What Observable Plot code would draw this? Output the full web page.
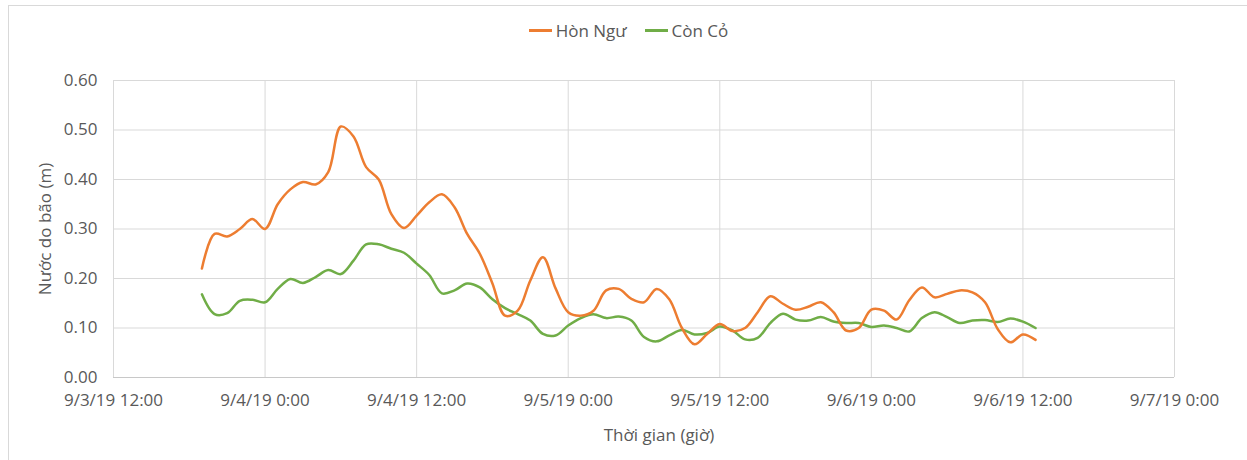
<!DOCTYPE html>
<html>
<head>
<meta charset="utf-8">
<script src="https://cdn.jsdelivr.net/npm/d3@7"></script>
<script src="https://cdn.jsdelivr.net/npm/@observablehq/plot@0.6"></script>
<style>
  body { margin: 0; background: #fff; font-family: "Open Sans", sans-serif; }
  #wrap { position: relative; width: 1247px; height: 460px; overflow: hidden; background: #fff; }
  #frame { position: absolute; left: 8px; top: 5px; width: 1300px; height: 500px;
           border-top: 1px solid #d9d9d9; border-left: 1px solid #d9d9d9; }
  #legend { position: absolute; left: 10px; top: 18px; width: 1237px; height: 24px;
            display: flex; justify-content: center; align-items: center; gap: 18px;
            font-size: 17px; color: #595959; }
  .item { display: flex; align-items: center; }
  .sw { width: 23px; height: 3px; margin-right: 4px; }
  #chart { position: absolute; left: 0; top: 50px; }
</style>
</head>
<body>
<div id="wrap">
  <div id="frame"></div>
  <div id="legend"></div>
  <div id="chart"></div>
</div>
<script>
// Series names and colors
const seriesNames = ["Hòn Ngư", "Còn Cỏ"];
const seriesColors = ["#ED7D31", "#70AD47"];

// Hourly observations, first reading 9/3/19 19:00, last 9/6/19 13:00
const firstReading = "2019-09-03T19:00:00Z";

const honNgu = [
  0.22, 0.29, 0.285, 0.30, 0.32, 0.30, 0.35, 0.38, 0.395, 0.39,
  0.415, 0.507, 0.487, 0.425, 0.40, 0.33, 0.302, 0.327, 0.354, 0.37,
  0.344, 0.29, 0.25, 0.19, 0.125, 0.135, 0.196, 0.243, 0.18, 0.132,
  0.125, 0.135, 0.176, 0.179, 0.159, 0.152, 0.179, 0.158, 0.10, 0.067,
  0.088, 0.108, 0.094, 0.10, 0.132, 0.164, 0.149, 0.137, 0.143, 0.152,
  0.132, 0.095, 0.10, 0.137, 0.135, 0.117, 0.156, 0.182, 0.162, 0.169,
  0.176, 0.172, 0.152, 0.098, 0.071, 0.087, 0.076
];

const conCo = [
  0.168, 0.128, 0.13, 0.155, 0.157, 0.152, 0.179, 0.199, 0.191, 0.203,
  0.217, 0.209, 0.236, 0.269, 0.269, 0.26, 0.252, 0.23, 0.207, 0.17,
  0.176, 0.19, 0.182, 0.158, 0.14, 0.128, 0.115, 0.088, 0.085, 0.105,
  0.12, 0.128, 0.12, 0.123, 0.115, 0.082, 0.073, 0.085, 0.096, 0.087,
  0.09, 0.103, 0.095, 0.077, 0.08, 0.11, 0.129, 0.117, 0.115, 0.122,
  0.113, 0.11, 0.11, 0.102, 0.105, 0.10, 0.093, 0.12, 0.132, 0.122,
  0.11, 0.115, 0.116, 0.112, 0.119, 0.113, 0.10
];

// Axis ticks
const xTickTimes = [
  "2019-09-03T12:00:00Z", "2019-09-04T00:00:00Z", "2019-09-04T12:00:00Z",
  "2019-09-05T00:00:00Z", "2019-09-05T12:00:00Z", "2019-09-06T00:00:00Z",
  "2019-09-06T12:00:00Z", "2019-09-07T00:00:00Z"
];
const xTickLabels = [
  "9/3/19 12:00", "9/4/19 0:00", "9/4/19 12:00", "9/5/19 0:00",
  "9/5/19 12:00", "9/6/19 0:00", "9/6/19 12:00", "9/7/19 0:00"
];
const yTicks = [0, 0.1, 0.2, 0.3, 0.4, 0.5, 0.6];
const yTickLabels = ["0.00", "0.10", "0.20", "0.30", "0.40", "0.50", "0.60"];

const xTitle = "Thời gian (giờ)";
const yTitle = "Nước do bão (m)";

// Build tables
const t0 = new Date(firstReading).getTime();
const timeAt = i => new Date(t0 + i * 3600 * 1000);
const tableA = honNgu.map((v, i) => ({time: timeAt(i), value: v}));
const tableB = conCo.map((v, i) => ({time: timeAt(i), value: v}));
const xTicks = xTickTimes.map(s => new Date(s));

// Legend
const legend = document.getElementById("legend");
seriesNames.forEach((name, i) => {
  const item = document.createElement("div");
  item.className = "item";
  const sw = document.createElement("span");
  sw.className = "sw";
  sw.style.background = seriesColors[i];
  const tx = document.createElement("span");
  tx.textContent = name;
  item.appendChild(sw);
  item.appendChild(tx);
  legend.appendChild(item);
});

const chart = Plot.plot({
  width: 1247,
  height: 410,
  marginLeft: 113,
  marginRight: 73,
  marginTop: 30,
  marginBottom: 83,
  style: {fontFamily: "'Open Sans', sans-serif", fontSize: "17px", color: "#595959", background: "transparent", overflow: "visible"},
  x: {type: "utc", domain: [xTicks[0], xTicks[xTicks.length - 1]]},
  y: {domain: [0, 0.6]},
  marks: [
    Plot.gridX(xTicks, {stroke: "#d9d9d9", strokeOpacity: 1}),
    Plot.gridY(yTicks, {stroke: "#d9d9d9", strokeOpacity: 1}),
    Plot.ruleY([0], {stroke: "#c8c8c8", strokeWidth: 1}),
    Plot.axisX(xTicks, {
      tickSize: 0, tickPadding: 16, label: null, fill: "#595959", fontSize: 17,
      tickFormat: d => xTickLabels[xTicks.findIndex(t => +t === +d)]
    }),
    Plot.axisY(yTicks, {
      tickSize: 0, tickPadding: 16, label: null, fill: "#595959", fontSize: 17,
      tickFormat: d => yTickLabels[yTicks.indexOf(d)]
    }),
    Plot.text([xTitle], {frameAnchor: "bottom", textAnchor: "middle", dx: 15, dy: 58, fill: "#595959", fontSize: 17, lineAnchor: "middle"}),
    Plot.text([yTitle], {frameAnchor: "left", textAnchor: "middle", dx: -68, rotate: -90, fill: "#595959", fontSize: 17, lineAnchor: "middle"}),
    Plot.line(tableB, {x: "time", y: "value", stroke: seriesColors[1], strokeWidth: 2.5, curve: "catmull-rom"}),
    Plot.line(tableA, {x: "time", y: "value", stroke: seriesColors[0], strokeWidth: 2.5, curve: "catmull-rom"})
  ]
});
document.getElementById("chart").appendChild(chart);
</script>
</body>
</html>
